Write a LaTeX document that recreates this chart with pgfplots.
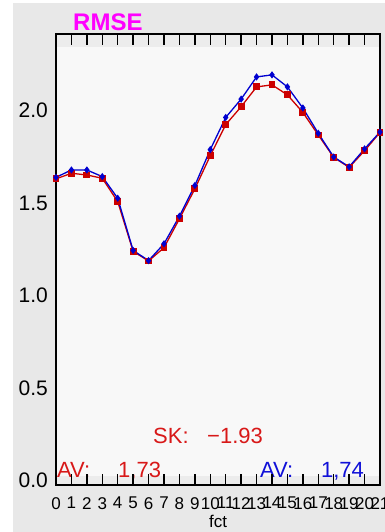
\documentclass[border=0pt]{standalone}
\usepackage{pgfplots}
\pgfplotsset{compat=1.18}
\usepackage{pgfplotstable}
\usepackage{fontspec}
\setmainfont{Liberation Sans}

\definecolor{bggray}{HTML}{E8E8E8}
\definecolor{plotbg}{HTML}{F8F8F8}
\definecolor{bandgray}{HTML}{ECECEC}
\definecolor{serred}{HTML}{CC0000}
\definecolor{serblue}{HTML}{0000D0}
\definecolor{txtred}{HTML}{D81818}
\definecolor{txtblue}{HTML}{1010D8}
\definecolor{titlemag}{HTML}{FF00FF}

% RMSE per forecast step for the two runs
\pgfplotstableread{
fct red   blue
0   1.632 1.640
1   1.662 1.680
2   1.653 1.680
3   1.635 1.644
4   1.509 1.527
5   1.240 1.245
6   1.188 1.190
7   1.260 1.281
8   1.416 1.430
9   1.578 1.596
10  1.757 1.790
11  1.925 1.964
12  2.022 2.063
13  2.129 2.183
14  2.140 2.194
15  2.086 2.129
16  1.991 2.015
17  1.869 1.878
18  1.748 1.750
19  1.694 1.697
20  1.784 1.794
21  1.883 1.885
}\rmsedata

\newcommand{\fs}[1]{\fontsize{#1}{#1}\selectfont}

\begin{document}
\begin{tikzpicture}
\useasboundingbox (-56bp,-47bp) rectangle (329bp,485bp);
\fill[bggray] (-43bp,-47bp) rectangle (329bp,482bp);
% plotting area with its two tick strips
\fill[plotbg] (0,0) rectangle (324bp,451bp);
\fill[bandgray] (0,0) rectangle (324bp,9bp);
\fill[bandgray] (0,438bp) rectangle (324bp,451bp);
\begin{axis}[
  at={(0,0)}, anchor=south west,
  scale only axis, width=324bp, height=451bp,
  xmin=0, xmax=21, ymin=-0.023, ymax=2.415,
  axis line style={black, line width=1.3bp},
  xtick={0,...,21},
  ytick={0,0.5,1.0,1.5,2.0},
  major tick length=0pt,
  /pgf/number format/assume math mode=true,
  yticklabel style={font=\fs{21bp}, inner sep=0pt, xshift=-8bp,
    /pgf/number format/fixed, /pgf/number format/fixed zerofill,
    /pgf/number format/precision=1},
  xticklabel style={font=\fs{17bp}, inner sep=0pt, yshift=-12bp},
  xlabel={fct},
  xlabel style={font=\fs{17bp}, at={(axis description cs:0.5,0)},
    anchor=north, inner sep=0pt, yshift=-30bp},
  clip=false,
]
\addplot[serred, line width=1.3bp, mark=square*, mark size=2.8bp,
  mark options={solid}] table[x=fct, y=red] {\rmsedata};
\addplot[serblue, line width=1.3bp, mark=diamond*, mark size=2.6bp,
  mark options={solid}] table[x=fct, y=blue] {\rmsedata};

\node[anchor=base west, inner sep=0pt, text=titlemag, font=\bfseries\fs{24bp}]
  at ([xshift=17bp, yshift=3.5bp]axis description cs:0,1) {RMSE};

\node[anchor=base west, inner sep=0pt, text=txtred, font=\fs{22bp}]
  at (axis cs:6.29,0.204) {SK:};
\node[anchor=base west, inner sep=0pt, text=txtred, font=\fs{22bp}]
  at (axis cs:9.79,0.204) {−1.93};
\node[anchor=base west, inner sep=0pt, text=txtred, font=\fs{22bp}]
  at (axis cs:0.06,0.017) {AV:};
\node[anchor=base west, inner sep=0pt, text=txtred, font=\fs{22bp}]
  at (axis cs:4.02,0.017) {1,73};
\node[anchor=base west, inner sep=0pt, text=txtblue, font=\fs{22bp}]
  at (axis cs:13.22,0.017) {AV:};
\node[anchor=base west, inner sep=0pt, text=txtblue, font=\fs{22bp}]
  at (axis cs:17.17,0.017) {1,74};
\end{axis}
% inward tick marks along the top and bottom edges of the frame
\foreach \i in {0,...,21}{
  \draw[black, line width=1.3bp] ({\i*15.4286bp},0bp) -- ({\i*15.4286bp},11bp);
  \draw[black, line width=1.3bp] ({\i*15.4286bp},451bp) -- ({\i*15.4286bp},440bp);
}
\end{tikzpicture}
\end{document}
